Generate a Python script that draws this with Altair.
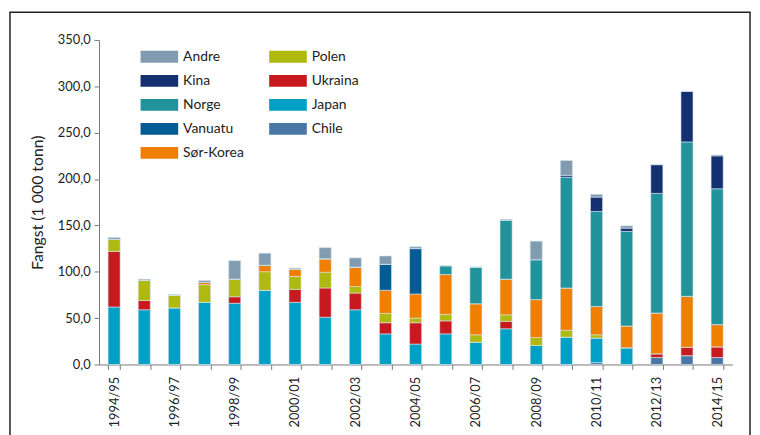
import altair as alt
import pandas as pd

seasons = ["1994/95", "1995/96", "1996/97", "1997/98", "1998/99", "1999/00", "2000/01",
           "2001/02", "2002/03", "2003/04", "2004/05", "2005/06", "2006/07", "2007/08",
           "2008/09", "2009/10", "2010/11", "2011/12", "2012/13", "2013/14", "2014/15"]

chile    = [0, 0, 0, 0, 0, 0, 0, 0, 0, 0, 0, 0, 0, 0, 0, 0, 2, 0, 7.5, 9.5, 7.5]
japan    = [62, 59, 61, 67, 66, 80, 67, 51, 59, 33, 22, 33, 24, 38.5, 20.5, 29.5, 26.5, 18, 0, 0, 0]
ukraina  = [60, 10, 0, 0, 7, 0, 14, 31.5, 18, 12, 23, 14, 0, 8, 0, 0, 0, 0, 4, 9, 11.5]
polen    = [13, 22, 14, 19, 19, 20, 14, 17, 7, 10, 5, 7, 8, 7, 8.5, 7.5, 3.5, 0, 0, 0, 0]
sorkorea = [0, 0, 0, 2.5, 0, 7, 8, 14.5, 21, 25, 26, 43, 33.5, 38.5, 41, 45.5, 30.5, 23.5, 44, 55, 24]
vanuatu  = [0, 0, 0, 0, 0, 0, 0, 0, 0, 28, 49, 0, 0, 0, 0, 0, 0, 0, 0, 0, 0]
norge    = [0, 0, 0, 0, 0, 0, 0, 0, 0, 0, 0, 9.5, 39.5, 63.5, 43, 119.5, 102.5, 102, 129, 166.5, 146.5]
kina     = [0, 0, 0, 0, 0, 0, 0, 0, 0, 0, 0, 0, 0, 0, 0, 2, 15.5, 3.5, 31, 54.5, 35.5]
andre    = [2, 1, 0.5, 2, 20, 13, 1, 12, 10, 9, 2, 0, 0, 1, 20, 16, 3, 2.5, 0, 0, 1]

# stacking order bottom -> top
series = [("Chile", chile), ("Japan", japan), ("Ukraina", ukraina), ("Polen", polen),
          ("Sør-Korea", sorkorea), ("Vanuatu", vanuatu), ("Norge", norge),
          ("Kina", kina), ("Andre", andre)]

colors = {"Andre": "#819cb0", "Polen": "#afb90f", "Kina": "#143070", "Ukraina": "#c8191e",
          "Norge": "#21939a", "Japan": "#009fc6", "Vanuatu": "#005c94", "Chile": "#4a77a6",
          "Sør-Korea": "#f07f00"}
# legend fills column by column
legend_order = ["Andre", "Kina", "Norge", "Vanuatu", "Sør-Korea", "Polen", "Ukraina", "Japan", "Chile"]

rows = []
for i, (name, vals) in enumerate(series):
    for s, v in zip(seasons, vals):
        rows.append({"season": s, "land": name, "value": v, "ord": i})
df = pd.DataFrame(rows)

label_set = seasons[::2]
label_expr = "indexof(" + str(label_set).replace("'", '"') + ", datum.value) >= 0 ? datum.value : ''"

FONT = "Lato"

bars = alt.Chart(df).mark_bar(stroke="#d6e3ec", strokeWidth=0.6).encode(
    x=alt.X("season:N", sort=seasons,
            scale=alt.Scale(paddingInner=0.6, paddingOuter=0.3),
            axis=alt.Axis(title=None, labelAngle=-90, labelAlign="right", labelBaseline="middle",
                          labelExpr=label_expr, tickBand="extent", tickSize=5, labelPadding=7,
                          labelFontSize=13, labelColor="#222", domainColor="#777",
                          tickColor="#777", labelFont=FONT)),
    y=alt.Y("value:Q", stack="zero",
            scale=alt.Scale(domain=[0, 350], nice=False),
            axis=alt.Axis(title="Fangst (1 000 tonn)", values=[0, 50, 100, 150, 200, 250, 300, 350],
                          labelExpr="replace(format(datum.value, '.1f'), '.', ',')",
                          grid=False, tickSize=5, labelPadding=4, labelFontSize=13,
                          labelColor="#222", domainColor="#777", tickColor="#777",
                          titleFontSize=16, titleFontWeight="normal", titleColor="#222",
                          titlePadding=12, labelFont=FONT, titleFont=FONT)),
    color=alt.Color("land:N",
                    scale=alt.Scale(domain=legend_order, range=[colors[k] for k in legend_order]),
                    legend=alt.Legend(title=None, orient="none", legendX=54, legendY=10,
                                      columns=2, columnPadding=24, rowPadding=10.3,
                                      symbolType="M-3.17,-1L3.17,-1L3.17,1L-3.17,1Z",
                                      symbolSize=144, symbolStrokeWidth=0, symbolOpacity=1,
                                      labelFontSize=14, labelColor="#222", labelFont=FONT,
                                      labelOffset=17)),
    order=alt.Order("ord:Q", sort="ascending"),
)

frame_df = pd.DataFrame({"a": [0]})
frame = alt.Chart(frame_df).mark_rect(fill=None, stroke="#222", strokeWidth=1.5).encode(
    x=alt.value(-90), x2=alt.value(658), y=alt.value(-28), y2=alt.value(440)
)

chart = alt.layer(frame, bars).properties(
    width=640, height=328,
    autosize=alt.AutoSizeParams(type="none"),
    padding={"left": 92, "top": 30, "right": 20, "bottom": 69},
    background="white",
).configure_view(stroke=None)

chart.save("out.html", embed_options={"renderer": "svg", "actions": False})
